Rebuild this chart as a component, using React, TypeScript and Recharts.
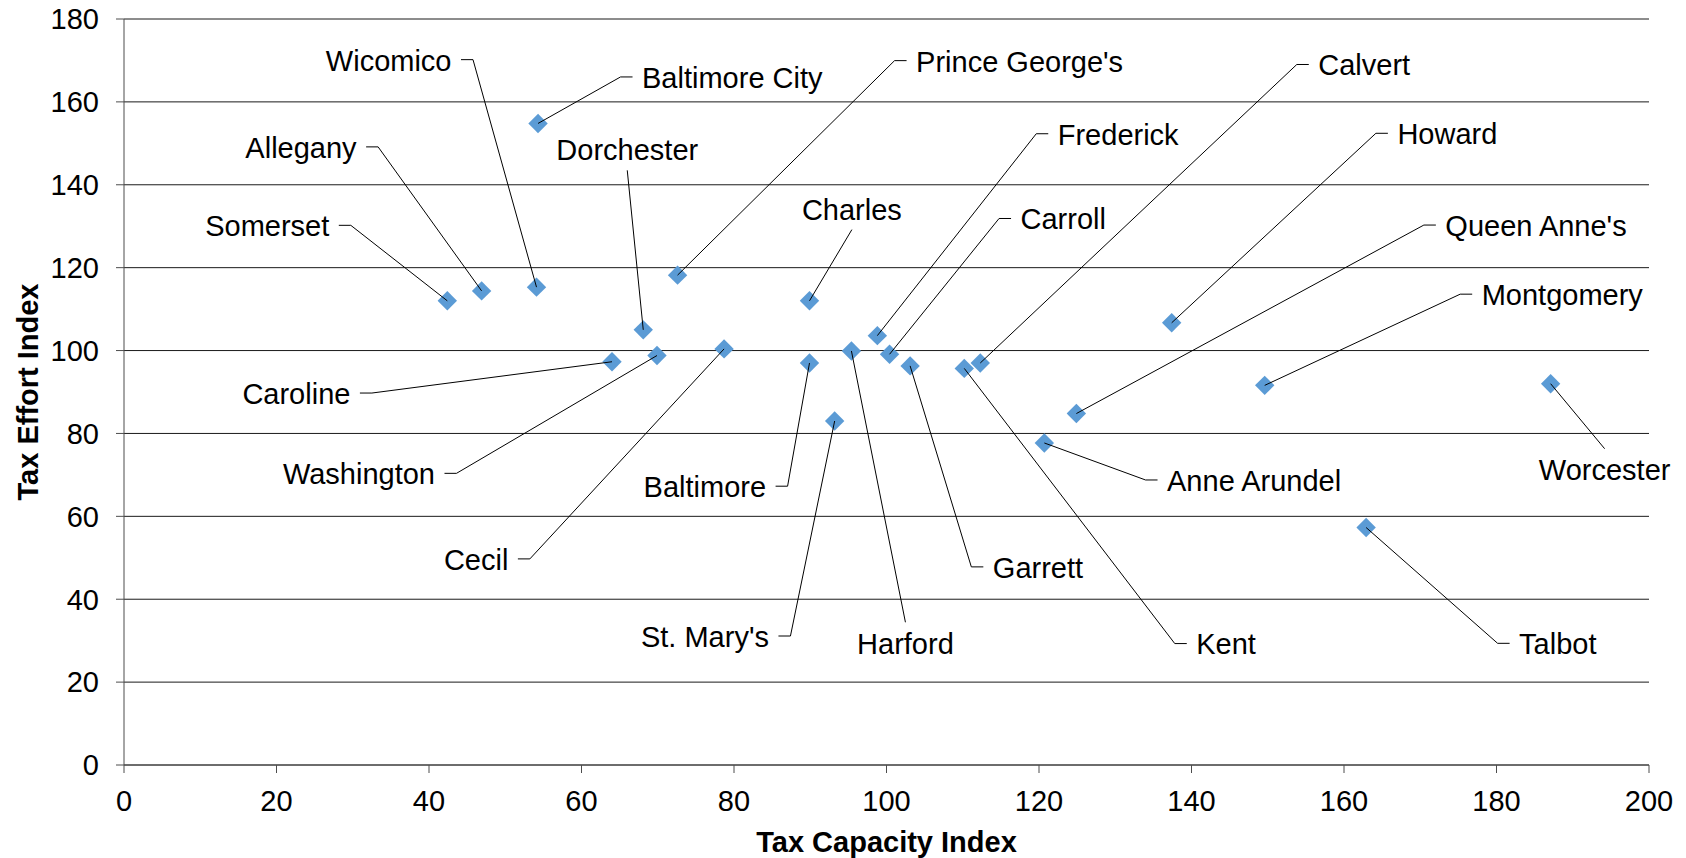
import React from 'react';
import { ScatterChart, Scatter, XAxis, YAxis, CartesianGrid } from 'recharts';

const counties = [
  'Somerset', 'Allegany', 'Wicomico', 'Baltimore City', "Prince George's", 'Dorchester',
  'Charles', 'Frederick', 'Carroll', 'Calvert', 'Howard', "Queen Anne's",
  'Montgomery', 'Worcester', 'Caroline', 'Washington', 'Cecil', 'Baltimore',
  "St. Mary's", 'Harford', 'Garrett', 'Kent', 'Anne Arundel', 'Talbot',
];
const taxCapacityIndex = [
  42.4, 46.9, 54.1, 54.3, 72.6, 68.1,
  89.9, 98.8, 100.4, 112.3, 137.4, 124.9,
  149.6, 187.1, 64.0, 69.9, 78.7, 89.9,
  93.2, 95.4, 103.1, 110.2, 120.7, 162.9,
];
const taxEffortIndex = [
  112.0, 114.4, 115.3, 154.8, 118.2, 105.0,
  112.0, 103.6, 99.1, 97.0, 106.7, 84.8,
  91.6, 92.0, 97.3, 98.8, 100.4, 97.0,
  83.0, 99.9, 96.3, 95.7, 77.7, 57.3,
];
const xTicks = [0, 20, 40, 60, 80, 100, 120, 140, 160, 180, 200];
const yTicks = [0, 20, 40, 60, 80, 100, 120, 140, 160, 180];

// label placement (pixel offsets of the label anchor from its point), same order as counties
const labelLayout = [
  { side: 'left', dx: -118, dy: -75 },
  { side: 'left', dx: -125, dy: -143.5 },
  { side: 'left', dx: -85, dy: -227 },
  { side: 'right', dx: 104, dy: -46 },
  { side: 'right', dx: 238.5, dy: -214 },
  { side: 'above', dx: -16, dy: -180 },
  { side: 'above', dx: 42.4, dy: -91.7 },
  { side: 'right', dx: 180.4, dy: -201.4 },
  { side: 'right', dx: 131, dy: -135.3 },
  { side: 'right', dx: 338, dy: -298 },
  { side: 'right', dx: 225.7, dy: -189 },
  { side: 'right', dx: 369, dy: -188 },
  { side: 'right', dx: 217, dy: -90.7 },
  { side: 'below', dx: 54, dy: 86 },
  { side: 'left', dx: -261.6, dy: 31.8 },
  { side: 'left', dx: -222, dy: 118.3 },
  { side: 'left', dx: -215.7, dy: 210.5 },
  { side: 'left', dx: -43.4, dy: 123.7 },
  { side: 'left', dx: -65.7, dy: 215.5 },
  { side: 'below', dx: 54, dy: 292.3 },
  { side: 'right', dx: 82.7, dy: 201.5 },
  { side: 'right', dx: 232, dy: 275.7 },
  { side: 'right', dx: 122.7, dy: 37.5 },
  { side: 'right', dx: 153, dy: 116.3 },
];

const data = counties.map((name, i) => ({
  name,
  idx: i,
  x: taxCapacityIndex[i],
  y: taxEffortIndex[i],
}));

const FONT = '"Liberation Sans", Arial, Helvetica, sans-serif';
const FS = 29;
const HALF_CAP = 10.4;

const Diamond = (props: any) => {
  const { cx, cy } = props;
  if (cx == null || cy == null) return null;
  const r = 9.7;
  return (
    <path
      d={`M${cx},${cy - r}L${cx + r},${cy}L${cx},${cy + r}L${cx - r},${cy}Z`}
      fill="#5B9BD5"
    />
  );
};

const LeaderLabel = (props: any) => {
  const { cx, cy, payload } = props;
  if (cx == null || cy == null || !payload) return null;
  const lay = labelLayout[payload.idx];
  const ax = cx + lay.dx;
  const ay = cy + lay.dy;
  let pts: number[][];
  let anchor: 'start' | 'end' | 'middle';
  if (lay.side === 'left') {
    pts = [[ax + 9.5, ay - 0.5], [ax + 21.5, ay - 0.5], [cx, cy]];
    anchor = 'end';
  } else if (lay.side === 'right') {
    pts = [[ax - 9.5, ay - 0.5], [ax - 21.5, ay - 0.5], [cx, cy]];
    anchor = 'start';
  } else if (lay.side === 'above') {
    pts = [[ax, ay + 20.5], [cx, cy]];
    anchor = 'middle';
  } else {
    pts = [[ax, ay - 21], [cx, cy]];
    anchor = 'middle';
  }
  return (
    <g>
      <polyline
        points={pts.map((p) => p.join(',')).join(' ')}
        fill="none"
        stroke="#000"
        strokeWidth={1}
      />
      <text
        x={ax}
        y={ay + HALF_CAP}
        textAnchor={anchor}
        fontSize={FS}
        fontFamily={FONT}
        fill="#000"
      >
        {payload.name}
      </text>
    </g>
  );
};

const XTitle = (props: any) => {
  const vb = props.viewBox || { x: 124, y: 765, width: 1525, height: 93 };
  return (
    <text
      x={vb.x + vb.width / 2}
      y={852}
      textAnchor="middle"
      fontSize={FS}
      fontWeight="bold"
      fontFamily={FONT}
      fill="#000"
    >
      Tax Capacity Index
    </text>
  );
};

const YTitle = (props: any) => {
  const vb = props.viewBox || { x: 0, y: 19, width: 124, height: 746 };
  const cy = vb.y + vb.height / 2;
  return (
    <text
      x={37.5}
      y={cy}
      transform={`rotate(-90, 37.5, ${cy})`}
      textAnchor="middle"
      fontSize={FS}
      fontWeight="bold"
      fontFamily={FONT}
      fill="#000"
    >
      Tax Effort Index
    </text>
  );
};

export default function App() {
  return (
    <div style={{ position: 'absolute', left: 0, top: 0, width: 1686, height: 858, background: '#fff' }}>
      <ScatterChart
        width={1686}
        height={858}
        margin={{ top: 19, right: 37, bottom: 0, left: 0 }}
      >
        <CartesianGrid vertical={false} stroke="#1a1a1a" strokeWidth={1} />
        <XAxis
          type="number"
          dataKey="x"
          domain={[0, 200]}
          ticks={xTicks}
          interval={0}
          height={93}
          tickSize={8}
          tickMargin={17}
          axisLine={{ stroke: '#4d4d4d', strokeWidth: 1 }}
          tickLine={{ stroke: '#4d4d4d', strokeWidth: 1 }}
          tick={{ fontSize: FS, fill: '#000', fontFamily: FONT }}
          label={<XTitle />}
        />
        <YAxis
          type="number"
          dataKey="y"
          domain={[0, 180]}
          ticks={yTicks}
          interval={0}
          width={124}
          tickSize={8}
          tickMargin={17}
          axisLine={{ stroke: '#4d4d4d', strokeWidth: 1 }}
          tickLine={{ stroke: '#4d4d4d', strokeWidth: 1 }}
          tick={{ fontSize: FS, fill: '#000', fontFamily: FONT }}
          label={<YTitle />}
        />
        <Scatter data={data} shape={<Diamond />} isAnimationActive={false} legendType="none" />
        <Scatter data={data} shape={<LeaderLabel />} isAnimationActive={false} legendType="none" />
      </ScatterChart>
    </div>
  );
}
